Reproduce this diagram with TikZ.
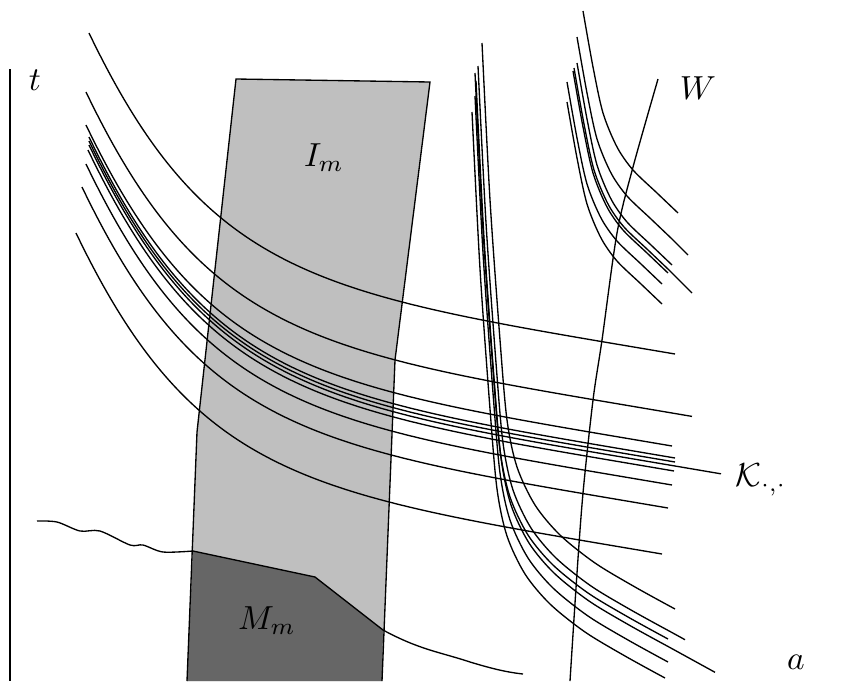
\documentclass[tikz,border=0pt]{standalone}
\usepackage{amsmath}
\usepackage{amssymb}
\usepackage{tikz}
\usepackage{xcolor}
\definecolor{lightshade}{gray}{0.75}
\definecolor{darkshade}{gray}{0.4}

\begin{document}
\begin{tikzpicture}[x=0.3pt,y=-0.3pt]
\useasboundingbox (0,0) rectangle (857,681);
\coordinate (i1) at (236,79);
\coordinate (i2) at (430,82);
\coordinate (i3) at (395,360);
\coordinate (i4) at (382,681);
\coordinate (i5) at (187,681);
\coordinate (i6) at (197,432);
\coordinate (m1) at (193,551);
\coordinate (m2) at (315,577);
\coordinate (m3) at (383,630);
\fill[lightshade] (i1)--(i2)--(i3)--(i4)--(i5)--(i6)--cycle;
\fill[darkshade] (m1)--(m2)--(m3)--(i4)--(i5)--cycle;
\draw (i5)--(i6)--(i1)--(i2)--(i3)--(i4);
\draw (10,69)--(10,681);
% boundary curve
\draw plot[smooth] coordinates {(37,521) (57,522) (80,531) (100,531) (130,545) (143,545) (163,552) (m1)}
  --(m2)--(m3) .. controls (420,650) and (440,652) .. (470,662) .. controls (490,668) and (505,672) .. (523,674);
% W
\draw plot[smooth] coordinates {(658,79) (633,167) (617,233) (602,340) (593,400) (583,493) (577,573) (570,681)};
% characteristics
\foreach \dx/\dy/\ext in {0/0/0,-3/59/20,-3/92/0,0/104/0,0/108/0,0/112/46,-1/117/0,-3/131/0,-7/154/0,-13/200/0}
  \draw[shift={(\dx,\dy)}] (89,33) .. controls (209,283) and (325,294.5) .. (675,354) -- ++(\ext,0.17*\ext);
\foreach \dx/\dy/\ext in {0/0/0,-4/23/14,-7/30/0,-6/38/46,-7/53/0,-10/69/0}
  \draw[shift={(\dx,\dy)}] plot[smooth] coordinates {(482,43) (490,200) (500,340) (507,420) (517,467) (535,505) (560,535) (595,563) (635,587) (675,609)} -- ++(\ext,0.55*\ext);
\foreach \dx/\dy/\ext in {0/0/0,-6/26/16,-6/52/0,-10/60/0,-9/57/23,-16/71/0,-16/91/0}
  \draw[shift={(\dx,\dy)}] plot[smooth] coordinates {(583,11) (593,67) (603,113) (617,147) (633,170) (657,193) (678,213)} -- ++(\ext,\ext);
% labels
\node (t) at (35,80) {$t$};
\node (Im) at (324,158) {$I_m$};
\node (Mm) at (267,621) {$M_m$};
\node (W) at (698,88) {$W$};
\node (K) at (761,480) {$\mathcal{K}_{\cdot,\cdot}$};
\node (a) at (796,662) {$a$};
\end{tikzpicture}
\end{document}
